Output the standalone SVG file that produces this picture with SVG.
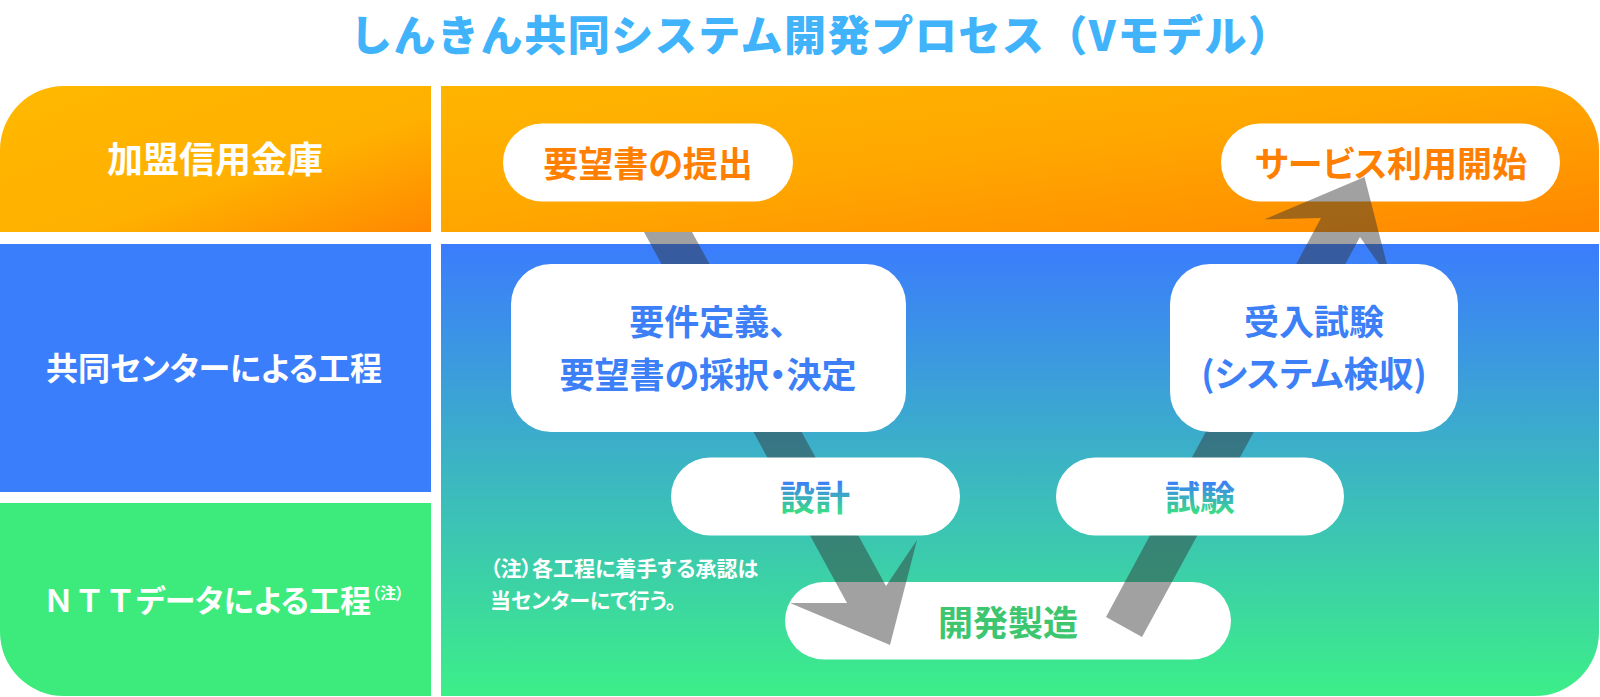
<svg xmlns="http://www.w3.org/2000/svg" width="1600" height="697" viewBox="0 0 1600 697">
<defs>
<linearGradient id="gOrangeL" x1="0" y1="0" x2="1" y2="1">
<stop offset="0" stop-color="#FFB800"/><stop offset="0.6" stop-color="#FFB000"/><stop offset="1" stop-color="#FF8800"/>
</linearGradient>
<linearGradient id="gOrangeR" x1="0" y1="0" x2="1" y2="1">
<stop offset="0" stop-color="#FFB500"/><stop offset="0.45" stop-color="#FFA800"/><stop offset="1" stop-color="#FF8800"/>
</linearGradient>
<linearGradient id="gLower" x1="0" y1="244" x2="0" y2="696" gradientUnits="userSpaceOnUse">
<stop offset="0" stop-color="#3B7CFD"/><stop offset="1" stop-color="#3CEF88"/>
</linearGradient>
<linearGradient id="gText" x1="0" y1="482" x2="0" y2="515" gradientUnits="userSpaceOnUse">
<stop offset="0" stop-color="#3B7FF8"/><stop offset="1" stop-color="#3BE47D"/>
</linearGradient>
<style>
text{font-family:"Noto Sans CJK JP","Noto Sans",sans-serif;font-weight:700;}
.p{font-feature-settings:"palt" 1;}
.title{font-size:42px;fill:#40B3FB;font-weight:900;}
.lbl{font-size:32px;fill:#FFFFFF;}
.box{fill:#FFFFFF;}
.t{font-size:35px;text-anchor:middle;}
.or{fill:#FF8000;}
.bl{fill:#3C7FF7;}
.gr{fill:#3DC66F;}
.gt{fill:url(#gText);}
.note{font-size:21px;fill:#FFFFFF;font-weight:700;}
.arrow{fill:#333333;fill-opacity:0.46;}
</style>
</defs>

<g id="panels">
<path d="M0,150 A64,64 0 0 1 64,86 H431 V232 H0 Z" fill="url(#gOrangeL)"/>
<rect x="0" y="244" width="431" height="248" fill="#3B7EFC"/>
<path d="M0,503 H431 V696 H64 A64,64 0 0 1 0,632 Z" fill="#3CEB7B"/>
<path d="M441,86 H1535 A64,64 0 0 1 1599,150 V232 H441 Z" fill="url(#gOrangeR)"/>
<path d="M441,244 H1599 V632 A64,64 0 0 1 1535,696 H441 Z" fill="url(#gLower)"/>
</g>

<text id="title" class="title" x="350" y="51" textLength="940" lengthAdjust="spacing">しんきん共同システム開発プロセス（Vモデル）</text>

<g id="lane-kanmei">
<text class="lbl p" x="215" y="172.5" text-anchor="middle" style="font-size:36px">加盟信用金庫</text>
</g>
<g id="lane-center">
<text class="lbl p" x="214" y="380" text-anchor="middle">共同センターによる工程</text>
</g>
<g id="lane-ntt">
<text class="lbl" x="43" y="612" style="font-size:31px">ＮＴＴ<tspan class="p">データによる工程</tspan><tspan class="p" dx="1" dy="-13" style="font-size:16px">（注）</tspan></text>
</g>

<g id="note">
<text class="note p" x="490" y="576">（注）各工程に着手する承認は</text>
<text class="note p" x="490" y="608">当センターにて行う。</text>
</g>

<g id="node-teishutsu">
<rect class="box" x="503" y="123.5" width="290" height="78" rx="39"/>
<text class="t p or" x="648" y="177.3">要望書の提出</text>
</g>
<g id="node-riyou">
<rect class="box" x="1221" y="123.5" width="339" height="78" rx="39"/>
<text class="t p or" x="1391" y="177.3">サービス利用開始</text>
</g>
<g id="node-kaihatsu">
<rect class="box" x="785" y="582" width="446" height="77.5" rx="38.75"/>
<text class="t p gr" x="1008" y="636">開発製造</text>
</g>

<g id="connectors">
<polygon class="arrow" points="644,232 692,232 886,586 917,540 890,645 790,603 847,603"/>
<polygon class="arrow" points="1364.5,177 1264.5,219.3 1321,218 1106,617 1142,637 1360,237 1391.5,282"/>
</g>

<g id="node-youken">
<rect class="box" x="511" y="264" width="395" height="168" rx="40"/>
<text class="t p bl" x="708" y="335">要件定義、</text>
<text class="t p bl" x="708" y="388">要望書の採択・決定</text>
</g>
<g id="node-ukeire">
<rect class="box" x="1170" y="264" width="288" height="168" rx="40"/>
<text class="t p bl" x="1314" y="335">受入試験</text>
<text class="t p bl" x="1314" y="387">(システム検収)</text>
</g>
<g id="node-sekkei">
<rect class="box" x="671" y="457.5" width="289" height="78" rx="39"/>
<text class="t p gt" x="815" y="511.3">設計</text>
</g>
<g id="node-shiken">
<rect class="box" x="1056" y="457.5" width="288" height="78" rx="39"/>
<text class="t p gt" x="1200" y="511.3">試験</text>
</g>
</svg>
